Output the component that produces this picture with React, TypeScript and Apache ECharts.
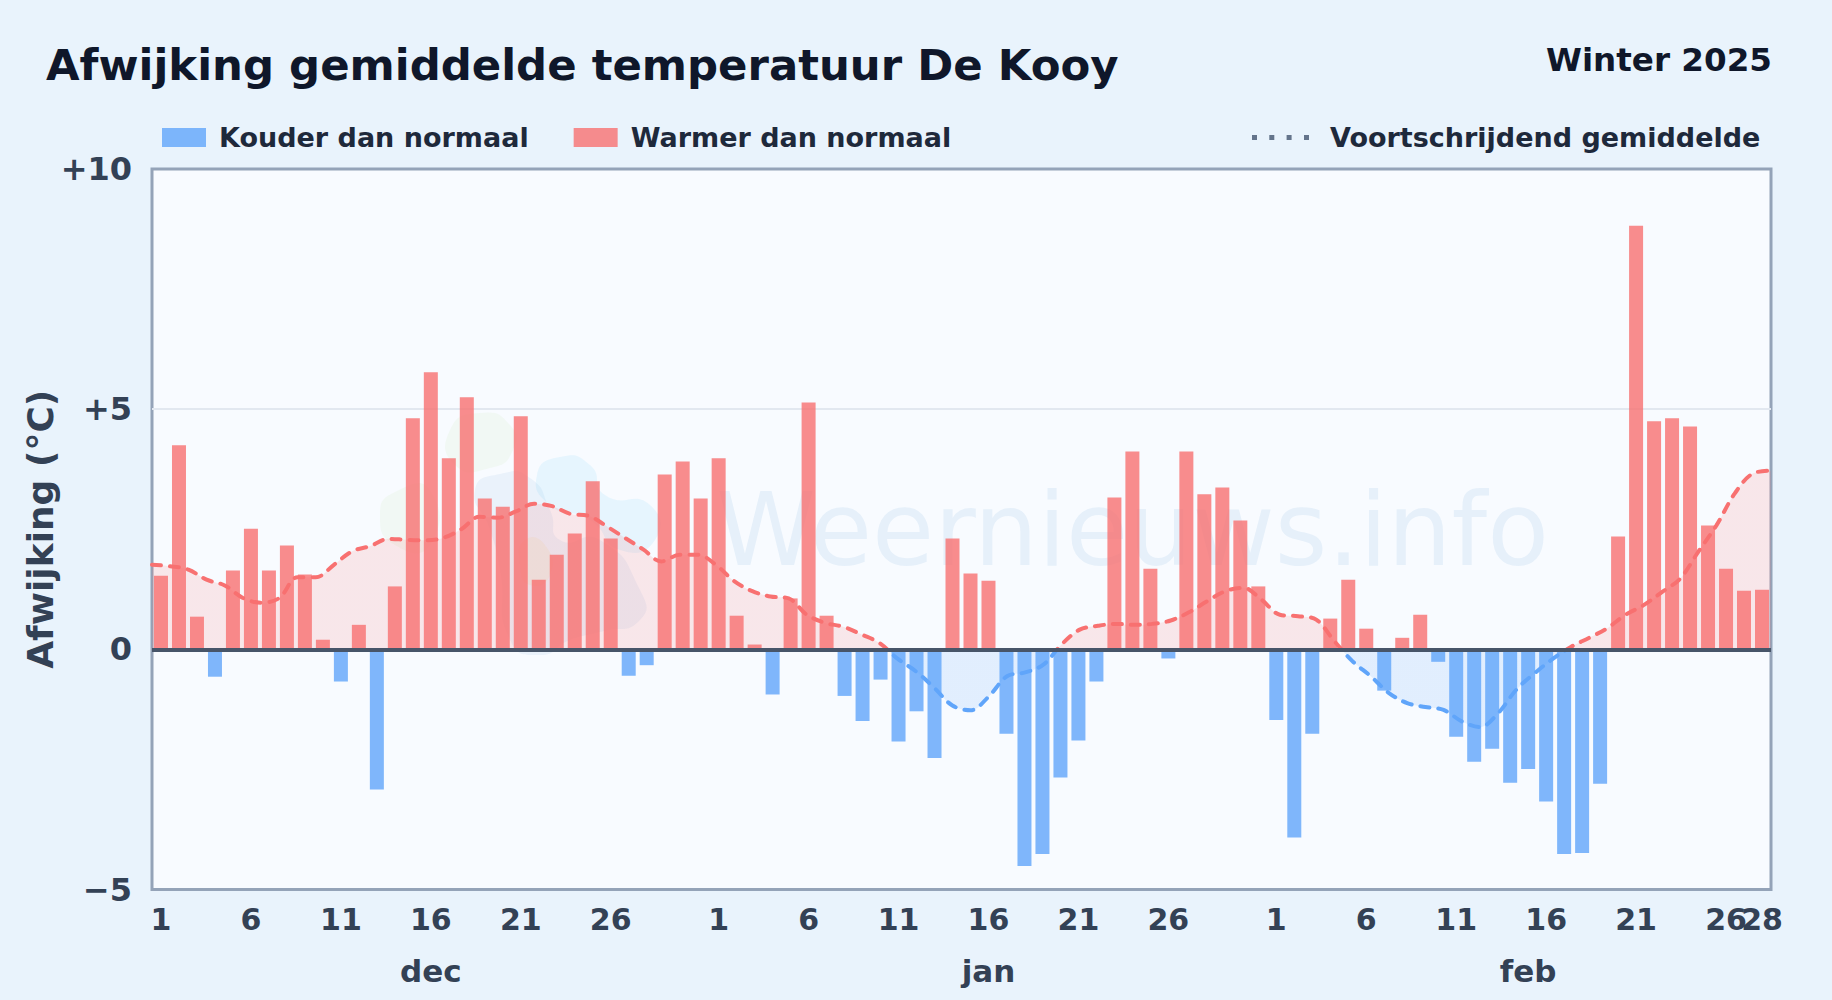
import React, { useEffect, useRef } from "react";
import * as echarts from "echarts";

const FONT = '"DejaVu Sans", sans-serif';

const decDays = ["1","2","3","4","5","6","7","8","9","10","11","12","13","14","15","16","17","18","19","20","21","22","23","24","25","26","27","28","29","30","31"];
const janDays = decDays;
const febDays = decDays.slice(0, 28);
const days = [...decDays, ...janDays, ...febDays];

const decValues = [1.53,4.25,0.68,-0.57,1.64,2.51,1.64,2.16,1.56,0.2,-0.67,0.51,-2.92,1.31,4.81,5.77,3.98,5.25,3.14,2.97,4.85,1.45,1.97,2.41,3.5,2.31,-0.55,-0.33,3.64,3.91,3.14];
const janValues = [3.98,0.7,0.1,-0.94,1.06,5.14,0.7,-0.97,-1.49,-0.63,-1.92,-1.29,-2.26,2.31,1.58,1.43,-1.76,-4.51,-4.26,-2.67,-1.9,-0.67,3.16,4.12,1.68,-0.19,4.12,3.23,3.37,2.68,1.31];
const febValues = [-1.47,-3.92,-1.76,0.64,1.45,0.43,-0.86,0.24,0.72,-0.26,-1.82,-2.34,-2.07,-2.78,-2.49,-3.17,-4.26,-4.24,-2.8,2.35,8.82,4.75,4.81,4.64,2.58,1.68,1.22,1.24];
const anomalies = [...decValues, ...janValues, ...febValues];

const decAverage = [1.76,1.73,1.66,1.45,1.33,1.07,0.97,1.07,1.5,1.5,1.76,2.04,2.15,2.3,2.28,2.27,2.32,2.5,2.76,2.74,2.87,3.03,2.98,2.82,2.78,2.56,2.32,2.08,1.83,1.97,1.97];
const janAverage = [1.76,1.42,1.21,1.1,1.06,0.72,0.55,0.47,0.31,0.13,-0.2,-0.46,-0.8,-1.17,-1.27,-0.98,-0.56,-0.48,-0.32,0.1,0.41,0.49,0.53,0.51,0.53,0.6,0.77,1.0,1.21,1.28,1.03];
const febAverage = [0.72,0.69,0.62,0.17,-0.25,-0.56,-0.91,-1.12,-1.2,-1.26,-1.5,-1.62,-1.33,-0.84,-0.5,-0.2,0.05,0.24,0.44,0.72,0.92,1.19,1.47,2.03,2.58,3.24,3.66,3.72];
const rollingAverage = [...decAverage, ...janAverage, ...febAverage];

const monthAxisLabels = days.map((_, i) => (i === 15 ? "dec" : i === 46 ? "jan" : i === 76 ? "feb" : ""));
const lastDayAxisLabels = days.map((d, i) => (i === days.length - 1 ? d : ""));
const yTickLabels: Record<string, string> = { "-5": "\u22125", "0": "0", "5": "+5", "10": "+10" };

const TITLE = "Afwijking gemiddelde temperatuur De Kooy";
const PERIOD = "Winter 2025";
const COLD = "Kouder dan normaal";
const WARM = "Warmer dan normaal";
const AVG = "Voortschrijdend gemiddelde";
const FOUR_DOTS = "path://M0 0h5v5h-5zM17.3 0h5v5h-5zM34.6 0h5v5h-5zM52 0h5v5h-5z";

const blob = (points: number[][], fill: string, opacity: number) => ({
  type: "polygon",
  z: 1,
  silent: true,
  shape: { points, smooth: 0.6 },
  style: { fill, opacity },
});

const tickLabelStyle = { margin: 15, fontFamily: FONT, fontSize: 30, fontWeight: "bold", color: "#334155" };

export default function App() {
  const ref = useRef<HTMLDivElement>(null);
  useEffect(() => {
    document.body.style.margin = "0";
    const chart = echarts.init(ref.current!, undefined, { renderer: "svg" });
    chart.setOption({
      animation: false,
      backgroundColor: "#e9f3fc",
      textStyle: { fontFamily: FONT },
      title: [
        { text: TITLE, left: 41, top: 38, textStyle: { fontFamily: FONT, fontSize: 43.4, fontWeight: "bold", color: "#0f172a" } },
        { text: PERIOD, right: 55, top: 38, textStyle: { fontFamily: FONT, fontSize: 32.6, fontWeight: "bold", color: "#0f172a" } },
      ],
      legend: [
        {
          left: 162, top: 124, padding: 0, itemWidth: 44, itemHeight: 19, itemGap: 45,
          data: [
            { name: COLD, icon: "rect" },
            { name: WARM, icon: "rect" },
          ],
          textStyle: { fontFamily: FONT, fontSize: 27, fontWeight: "bold", color: "#1e293b", padding: [0, 0, 0, 8] },
          selectedMode: false,
        },
        {
          left: 1252, top: 124, padding: 0, itemWidth: 57, itemHeight: 5,
          data: [{ name: AVG, icon: FOUR_DOTS, itemStyle: { color: "#64748b" }, lineStyle: { width: 0 } }],
          textStyle: { fontFamily: FONT, fontSize: 27, fontWeight: "bold", color: "#1e293b", padding: [0, 0, 0, 16] },
          selectedMode: false,
        },
      ],
      grid: { left: 152, right: 61, top: 169, bottom: 110.5, outerBoundsMode: "none", show: true, backgroundColor: "#f8fbff", borderColor: "#94a3b8", borderWidth: 3 },
      xAxis: [
        {
          type: "category", data: days, position: "bottom",
          axisLine: { show: false }, axisTick: { show: false },
          axisLabel: {
            ...tickLabelStyle,
            showMinLabel: true,
            interval: (i: number) => { const d = Number(days[i]); return (d - 1) % 5 === 0 && d !== 31; },
          },
        },
        {
          type: "category", data: days, boundaryGap: false, show: false,
        },
        {
          type: "category", data: monthAxisLabels, position: "bottom", offset: 51,
          axisLine: { show: false }, axisTick: { show: false },
          axisLabel: {
            ...tickLabelStyle, fontSize: 31,
            interval: (i: number) => monthAxisLabels[i] !== "",
          },
        },
        {
          type: "category", data: lastDayAxisLabels, position: "bottom",
          axisLine: { show: false }, axisTick: { show: false },
          axisLabel: {
            ...tickLabelStyle, showMaxLabel: true,
            interval: (i: number) => lastDayAxisLabels[i] !== "",
          },
        },
      ],
      yAxis: {
        type: "value", min: -5, max: 10, interval: 5,
        name: "Afwijking (°C)", nameLocation: "middle", nameGap: 94, nameRotate: 90, nameMoveOverlap: false,
        nameTextStyle: { fontFamily: FONT, fontSize: 36, fontWeight: "bold", color: "#334155" },
        axisLine: { show: false }, axisTick: { show: false },
        axisLabel: { margin: 20, fontFamily: FONT, fontSize: 32, fontWeight: "bold", color: "#334155", formatter: (v: number) => yTickLabels[String(v)] },
        splitLine: { show: true, showMinLine: false, showMaxLine: false, lineStyle: { color: "#e2e8f0", width: 2 } },
      },
      visualMap: {
        show: false, seriesIndex: 0, dimension: 1,
        pieces: [
          { gte: -20, lt: 0, color: "#60a5fa" },
          { gte: 0, lte: 20, color: "#f87171" },
        ],
      },
      series: [
        {
          name: AVG, type: "line", xAxisIndex: 1, data: rollingAverage, smooth: 0.35, showSymbol: false, symbol: "none", z: 1,
          lineStyle: { width: 4, type: [9, 9], cap: "round" },
          areaStyle: { opacity: 0.15 },
        },
        {
          name: COLD, type: "bar", stack: "t", barWidth: 14, z: 2,
          data: anomalies.map((v) => (v < 0 ? v : null)),
          itemStyle: { color: "#60a5fa", opacity: 0.8 },
        },
        {
          name: WARM, type: "bar", stack: "t", barWidth: 14, z: 3,
          data: anomalies.map((v) => (v >= 0 ? v : null)),
          itemStyle: { color: "#f87171", opacity: 0.8 },
          markLine: {
            silent: true, symbol: "none", z: 5, label: { show: false },
            data: [{ yAxis: 0 }],
            lineStyle: { color: "#475569", width: 4, type: "solid" },
          },
        },
      ],
      graphic: [
        {
          type: "text", z: 1, silent: true, left: 716, top: 479,
          style: { text: "Weernieuws.info", fontFamily: FONT, fontSize: 101, fill: "#3b82c6", opacity: 0.09 },
        },
        blob([[450,430],[480,413],[510,425],[513,450],[490,468],[455,465]], "#a3d977", 0.08),
        blob([[380,515],[395,492],[430,490],[430,545],[395,545]], "#a3d977", 0.08),
        blob([[475,490],[500,474],[530,478],[550,510],[560,540],[600,540],[640,590],[640,620],[600,632],[570,640],[540,655],[510,640],[500,570],[490,530]], "#3b82c6", 0.07),
        blob([[537,475],[560,457],[590,465],[605,495],[650,505],[655,540],[620,550],[590,520],[550,505]], "#38bdf8", 0.09),
        blob([[525,540],[545,545],[550,575],[530,585],[520,565]], "#fbbf24", 0.08),
      ],
    });
    return () => chart.dispose();
  }, []);
  return <div ref={ref} style={{ position: "fixed", left: 0, top: 0, width: 1832, height: 1000 }} />;
}
